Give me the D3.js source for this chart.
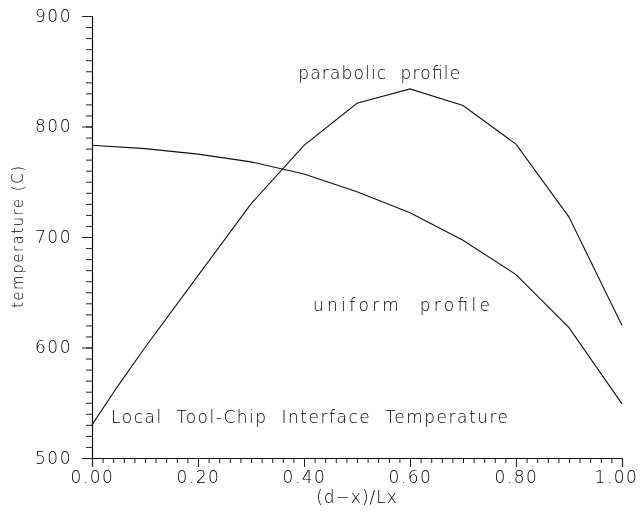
<!DOCTYPE html>
<html>
<head>
<meta charset="utf-8">
<script src="https://cdn.jsdelivr.net/npm/d3@7/dist/d3.min.js"></script>
<style>
  html, body { margin: 0; padding: 0; background: #fff; }
  svg { display: block; filter: grayscale(1); }
  text { font-family: "DejaVu Sans", sans-serif; fill: #000; font-weight: 200; }
</style>
</head>
<body>
<svg id="chart" width="641" height="514"></svg>
<script>
// Position along the tool-chip contact, normalised
const xParabolic = [0.00, 0.05, 0.10, 0.20, 0.30, 0.40, 0.50, 0.60, 0.70, 0.80, 0.90, 1.00];
const tParabolic = [530, 566, 600, 665, 730, 783, 821, 834, 819, 784, 718, 620];

const xUniform = [0.00, 0.10, 0.20, 0.30, 0.40, 0.50, 0.60, 0.70, 0.80, 0.90, 1.00];
const tUniform = [783, 780, 775, 768, 757, 741, 722, 697, 666, 618, 549];

const xTickLabels = ["0.00", "0.20", "0.40", "0.60", "0.80", "1.00"];
const yTickLabels = ["500", "600", "700", "800", "900"];

const annotations = [
  { text: "parabolic  profile", x: 0.389, t: 843, len: 162 },
  { text: "uniform  profile", x: 0.417, t: 633, len: 177 },
  { text: "Local  Tool-Chip  Interface  Temperature", x: 0.036, t: 532, len: 397 }
];

const svg = d3.select("#chart");
const margin = { left: 92, right: 19, top: 16, bottom: 56 };
const W = 641, H = 514;

const x = d3.scaleLinear().domain([0, 1]).range([margin.left, W - margin.right]);
const y = d3.scaleLinear().domain([500, 900]).range([H - margin.bottom, margin.top]);

// Left axis: major ticks every 100, minor every 10, pointing outward
const yAxis = d3.axisLeft(y).tickValues(yTickLabels.map(Number)).tickSize(10).tickFormat(d => String(d));
const yMinor = d3.axisLeft(y).tickValues(d3.range(500, 901, 10)).tickSize(6).tickFormat("");

const gyMinor = svg.append("g").attr("transform", `translate(${margin.left},0)`).call(yMinor);
const gy = svg.append("g").attr("transform", `translate(${margin.left},0)`).call(yAxis);

// Bottom axis: major every 0.2, minor every 0.02, pointing down
const xAxis = d3.axisBottom(x).tickValues(xTickLabels.map(Number)).tickSize(9).tickFormat((d, i) => xTickLabels[i]);
const xMinor = d3.axisBottom(x).tickValues(d3.range(0, 51).map(i => i / 50)).tickSize(5).tickFormat("");

const gxMinor = svg.append("g").attr("transform", `translate(0,${y(500)})`).call(xMinor);
const gx = svg.append("g").attr("transform", `translate(0,${y(500)})`).call(xAxis);

[gy, gyMinor, gx, gxMinor].forEach(g => {
  g.select(".domain").attr("stroke", "#111").attr("stroke-width", 1.2);
  g.selectAll(".tick line").attr("stroke", "#222").attr("stroke-width", 1);
});
gyMinor.select(".domain").remove();
gxMinor.select(".domain").remove();

gy.selectAll(".tick text")
  .attr("x", -20)
  .attr("font-size", 17)
  .attr("letter-spacing", 1.5)
  .attr("font-family", "DejaVu Sans, sans-serif");
gx.selectAll(".tick text")
  .attr("y", 13)
  .attr("dx", (d, i) => i === xTickLabels.length - 1 ? -6 : 0)
  .attr("font-size", 17)
  .attr("letter-spacing", 1.5)
  .attr("font-family", "DejaVu Sans, sans-serif");

// Axis titles
svg.append("text")
  .attr("x", x(0.5)).attr("y", 503)
  .attr("text-anchor", "middle")
  .attr("font-size", 17)
  .attr("letter-spacing", 1)
  .text("(d\u2212x)/Lx");

svg.append("text")
  .attr("transform", `translate(23,237) rotate(-90)`)
  .attr("text-anchor", "middle")
  .attr("font-size", 15)
  .attr("textLength", 142)
  .attr("lengthAdjust", "spacing")
  .text("temperature (C)");

// Profiles
const line = d3.line().x(d => x(d[0])).y(d => y(d[1]));

svg.append("path")
  .datum(d3.zip(xParabolic, tParabolic))
  .attr("fill", "none").attr("stroke", "#111").attr("stroke-width", 1.1)
  .attr("d", line);

svg.append("path")
  .datum(d3.zip(xUniform, tUniform))
  .attr("fill", "none").attr("stroke", "#111").attr("stroke-width", 1.1)
  .attr("d", line);

// Curve labels
svg.selectAll("text.note")
  .data(annotations)
  .join("text")
  .attr("class", "note")
  .attr("x", d => x(d.x))
  .attr("y", d => y(d.t))
  .attr("font-size", 17)
  .attr("textLength", d => d.len)
  .attr("lengthAdjust", "spacing")
  .style("white-space", "pre")
  .text(d => d.text);
</script>
</body>
</html>
